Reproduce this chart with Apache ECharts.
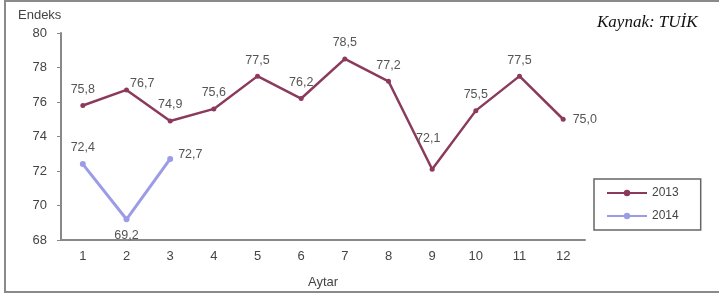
<!DOCTYPE html>
<html>
<head>
<meta charset="utf-8">
<script src="https://cdn.jsdelivr.net/npm/echarts@6/dist/echarts.min.js"></script>
<style>
  html, body { margin: 0; padding: 0; background: #fff; }
  #chart { width: 719px; height: 303px; }
</style>
</head>
<body>
<div id="chart"></div>
<script>
// aylar ve endeks degerleri
var months = ['1', '2', '3', '4', '5', '6', '7', '8', '9', '10', '11', '12'];
var values2013 = [75.8, 76.7, 74.9, 75.6, 77.5, 76.2, 78.5, 77.2, 72.1, 75.5, 77.5, 75.0];
var values2014 = [72.4, 69.2, 72.7];
var yTicks = [68, 70, 72, 74, 76, 78, 80];

// etiket konumlari (resimden)
var pos2013 = ['top', 'right', 'top', 'top', 'top', 'top', 'top', 'top', 'top', 'top', 'top', 'right'];
var pos2014 = ['top', 'bottom', 'right'];

function fmt(v) {
  return v.toFixed(1).replace('.', ',');
}

function buildData(vals, pos) {
  return vals.map(function (v, i) {
    var d = { value: v, label: { position: pos[i] } };
    return d;
  });
}

var data2013 = buildData(values2013, pos2013);
data2013[1].label.offset = [-6, -6];
data2013[8].label.distance = 22;
data2013[8].label.offset = [-4, 0];
var data2014 = buildData(values2014, pos2014);
data2014[2].label.offset = [-2, -4];

var chart = echarts.init(document.getElementById('chart'));
var option = {
  animation: false,
  textStyle: { fontFamily: 'Liberation Sans, Arial, sans-serif' },
  grid: { left: 61, right: 134, top: 33, bottom: 63 },
  graphic: [
    {
      type: 'rect',
      shape: { x: 5, y: 1, width: 730, height: 291 },
      style: { fill: 'none', stroke: '#8a8a8a', lineWidth: 2 }
    },
    {
      type: 'text', left: 18, top: 9,
      style: { text: 'Endeks', font: '13px "Liberation Sans", Arial, sans-serif', fill: '#444' }
    },
    {
      type: 'text', left: 597, top: 14,
      style: { text: 'Kaynak: TUİK', font: 'italic 17px "Liberation Serif", "DejaVu Serif", serif', fill: '#111' }
    }
  ],
  legend: {
    orient: 'vertical',
    left: 594, top: 179,
    data: ['2013', '2014'],
    itemWidth: 40, itemHeight: 8, itemGap: 11,
    padding: [8, 22, 8, 12],
    borderColor: '#666', borderWidth: 1.5,
    textStyle: { color: '#444', fontSize: 12 }
  },
  xAxis: {
    type: 'category',
    data: months,
    name: 'Aytar',
    nameLocation: 'middle',
    nameGap: 36,
    nameTextStyle: { color: '#444', fontSize: 13 },
    axisLine: { lineStyle: { color: '#888', width: 2 } },
    axisTick: { show: false },
    axisLabel: { color: '#444', fontSize: 13, margin: 10 }
  },
  yAxis: {
    type: 'value',
    min: yTicks[0], max: yTicks[yTicks.length - 1], interval: 2,
    axisLine: { show: true, lineStyle: { color: '#888', width: 2 } },
    axisTick: { show: true, length: 4, lineStyle: { color: '#888' } },
    axisLabel: { color: '#444', fontSize: 13, margin: 14 },
    splitLine: { show: false }
  },
  series: [
    {
      name: '2013',
      type: 'line',
      data: data2013,
      symbol: 'circle',
      symbolSize: 5,
      lineStyle: { color: '#8b3a5c', width: 2.5 },
      itemStyle: { color: '#8b3a5c' },
      label: {
        show: true, color: '#555', fontSize: 12.5, distance: 7,
        formatter: function (p) { return fmt(p.value); }
      }
    },
    {
      name: '2014',
      type: 'line',
      data: data2014,
      symbol: 'circle',
      symbolSize: 6,
      lineStyle: { color: '#9c9ce6', width: 3 },
      itemStyle: { color: '#9c9ce6' },
      label: {
        show: true, color: '#555', fontSize: 12.5, distance: 7,
        formatter: function (p) { return fmt(p.value); }
      }
    }
  ]
};
chart.setOption(option);
</script>
</body>
</html>
